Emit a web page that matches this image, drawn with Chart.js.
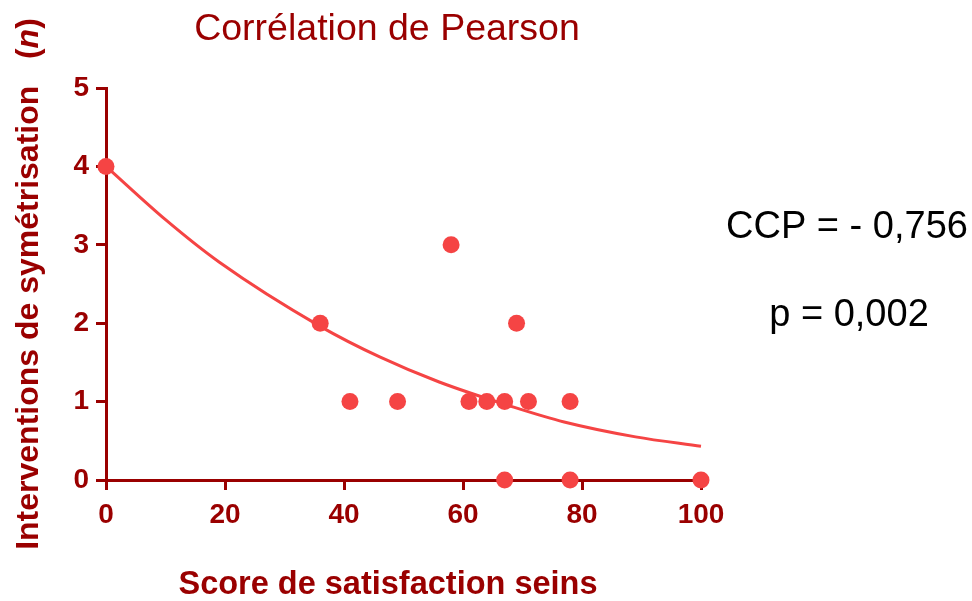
<!DOCTYPE html>
<html>
<head>
<meta charset="utf-8">
<script src="https://cdn.jsdelivr.net/npm/chart.js@4.4.1/dist/chart.umd.min.js"></script>
<style>
  html, body { margin: 0; padding: 0; background: #fff; }
  #wrap { width: 972px; height: 601px; }
</style>
</head>
<body>
<div id="wrap"><canvas id="chart1"></canvas></div>
<script>
'use strict';

// score de satisfaction (x) / interventions (y)
const scoreX = [0, 36, 41, 49, 58, 61, 64, 67, 67, 69, 71, 78, 78, 100];
const interventionsY = [4, 2, 1, 1, 3, 1, 1, 1, 0, 2, 1, 1, 0, 0];

// fitted curve
const curveX = [0, 10, 19, 36, 46, 56, 68.5, 77, 89, 100];
const curveY = [4.0, 3.32, 2.78, 1.96, 1.57, 1.25, 0.93, 0.74, 0.55, 0.43];

const xTicks = [0, 20, 40, 60, 80, 100];
const yTicks = [0, 1, 2, 3, 4, 5];

const darkRed = '#9a0000';
const pointRed = '#f54444';

window.addEventListener('load', run);

function run() {
  chart1();
}

function drawText(ctx, txt, x, y, font, color) {
  ctx.save();
  ctx.font = font;
  ctx.fillStyle = color;
  ctx.textAlign = 'center';
  ctx.textBaseline = 'alphabetic';
  ctx.fillText(txt, x, y);
  ctx.restore();
}

const labelsPlugin = {
  id: 'labelsPlugin',
  afterDraw(chart) {
    const ctx = chart.ctx;
    drawText(ctx, 'Corrélation de Pearson', 387, 40, '37.5px "Liberation Sans"', darkRed);
    drawText(ctx, 'Score de satisfaction seins', 388, 594, 'bold 32.5px "Liberation Sans"', darkRed);
    drawText(ctx, 'CCP = - 0,756', 847, 238, '38px "Liberation Sans"', '#000');
    drawText(ctx, 'p = 0,002', 849, 326, '38px "Liberation Sans"', '#000');

    // rotated y title, with italic n
    ctx.save();
    ctx.translate(38, 284);
    ctx.rotate(-Math.PI / 2);
    ctx.textBaseline = 'alphabetic';
    ctx.fillStyle = darkRed;
    const f1 = 'bold 32px "Liberation Sans"';
    const f2 = 'bold italic 32px "Liberation Sans"';
    const p1 = 'Interventions de symétrisation   (';
    const p2 = 'n';
    const p3 = ')';
    ctx.font = f1;
    const w1 = ctx.measureText(p1).width;
    const w3 = ctx.measureText(p3).width;
    ctx.font = f2;
    const w2 = ctx.measureText(p2).width;
    let x = -(w1 + w2 + w3) / 2;
    ctx.textAlign = 'left';
    ctx.font = f1;
    ctx.fillText(p1, x, 0);
    x += w1;
    ctx.font = f2;
    ctx.fillText(p2, x, 0);
    x += w2;
    ctx.font = f1;
    ctx.fillText(p3, x, 0);
    ctx.restore();
  }
};

function chart1() {
  const ctx = document.getElementById('chart1').getContext('2d');
  const pts = scoreX.map((v, i) => ({ x: v, y: interventionsY[i] }));
  const curve = curveX.map((v, i) => ({ x: v, y: curveY[i] }));

  const myChart = new Chart(ctx, {
    type: 'scatter',
    data: {
      datasets: [
        {
          label: 'Données',
          data: pts,
          backgroundColor: pointRed,
          borderColor: pointRed,
          pointRadius: 8.5,
          pointHoverRadius: 8.5,
          borderWidth: 0,
          clip: false,
          order: 1
        },
        {
          label: 'Courbe',
          data: curve,
          showLine: true,
          borderColor: pointRed,
          borderWidth: 3,
          pointRadius: 0,
          cubicInterpolationMode: 'monotone',
          fill: false,
          clip: false,
          order: 2
        }
      ]
    },
    options: {
      responsive: true,
      maintainAspectRatio: false,
      animation: false,
      events: [],
      layout: { padding: { top: 88, right: 271, left: 0, bottom: 0 } },
      plugins: {
        legend: { display: false },
        tooltip: { enabled: false },
        title: { display: false }
      },
      scales: {
        x: {
          type: 'linear',
          min: 0,
          max: 100,
          afterFit: s => { s.height = 121; },
          afterBuildTicks: s => { s.ticks = xTicks.map(v => ({ value: v })); },
          border: { color: darkRed, width: 3 },
          grid: { drawOnChartArea: false, drawTicks: true, tickLength: 10, color: darkRed, lineWidth: 3 },
          ticks: {
            color: darkRed,
            padding: 8,
            maxRotation: 0,
            font: { family: 'Liberation Sans', size: 28, weight: 'bold' }
          }
        },
        y: {
          type: 'linear',
          min: 0,
          max: 5,
          afterFit: s => { s.width = 106; },
          afterBuildTicks: s => { s.ticks = yTicks.map(v => ({ value: v })); },
          border: { color: darkRed, width: 3 },
          grid: { drawOnChartArea: false, drawTicks: true, tickLength: 10, color: darkRed, lineWidth: 3 },
          ticks: {
            color: darkRed,
            padding: 7,
            font: { family: 'Liberation Sans', size: 28, weight: 'bold' }
          }
        }
      }
    },
    plugins: [labelsPlugin]
  });
}
</script>
</body>
</html>
